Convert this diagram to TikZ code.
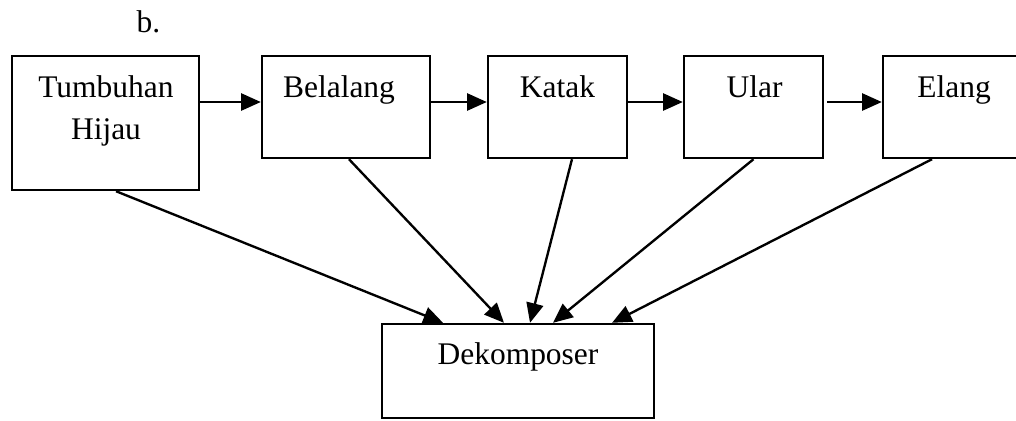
\documentclass[tikz,border=0pt]{standalone}
\usepackage{fontspec}
\setmainfont{Liberation Serif}
\usetikzlibrary{arrows.meta}
\begin{document}
\begin{tikzpicture}[x=0.0134cm,y=-0.0134cm,
		box/.style={rectangle,draw,line width=0.9pt},
		txt/.style={inner sep=0pt,anchor=base,font=\fontsize{12}{14}\selectfont},
		arr/.style={line width=0.9pt,-{Triangle[length=7.5pt,width=6.5pt]}}]
		\clip (0,0) rectangle (1016,420);
		\node[txt,anchor=base west] (lbl) at (136,32) {b.};
		
		\node[box,minimum width=2.506cm,minimum height=1.796cm] (tumbuhan) at (105.5,123) {};
		\node[box,minimum width=2.251cm,minimum height=1.367cm] (belalang) at (346,107) {};
		\node[box,minimum width=1.863cm,minimum height=1.367cm] (katak) at (557.5,107) {};
		\node[box,minimum width=1.863cm,minimum height=1.367cm] (ular) at (753.5,107) {};
		\node[box,minimum width=1.903cm,minimum height=1.367cm] (elang) at (954,107) {};
		\node[box,minimum width=3.645cm,minimum height=1.260cm] (dekomposer) at (518,371) {};
		
		\node[txt] (t1) at (106,97) {Tumbuhan};
		\node[txt] (t2) at (106,139) {Hijau};
		\node[txt] (t3) at (339,97) {Belalang};
		\node[txt] (t4) at (557.5,97) {Katak};
		\node[txt] (t5) at (754.5,97) {Ular};
		\node[txt] (t6) at (954,97) {Elang};
		\node[txt] (t7) at (518,364) {Dekomposer};
		
		\draw[arr] ([yshift=0.067cm]belalang.west -| tumbuhan.east) -- ([yshift=0.067cm]belalang.west);
		\draw[arr] ([yshift=0.067cm]belalang.east) -- ([yshift=0.067cm]katak.west);
		\draw[arr] ([yshift=0.067cm]katak.east) -- ([yshift=0.067cm]ular.west);
		\draw[arr] ([yshift=0.067cm,xshift=0.04cm]ular.east) -- ([yshift=0.067cm]elang.west);
		
		\draw[arr] ([xshift=0.141cm]tumbuhan.south) -- ([xshift=-1.005cm]dekomposer.north);
		\draw[arr] ([xshift=0.04cm]belalang.south) -- ([xshift=-0.188cm]dekomposer.north);
		\draw[arr] ([xshift=0.194cm]katak.south) -- ([xshift=0.161cm]dekomposer.north);
		\draw[arr] (ular.south) -- ([xshift=0.469cm]dekomposer.north);
		\draw[arr] ([xshift=-0.295cm]elang.south) -- ([xshift=1.26cm]dekomposer.north);
	\end{tikzpicture}
\end{document}
